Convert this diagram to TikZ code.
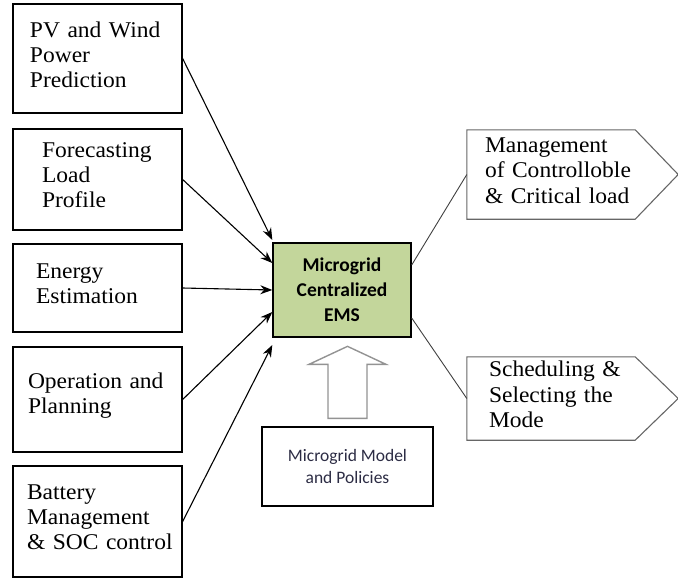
\documentclass[tikz,border=0pt]{standalone}
\usepackage{fontspec}
\setmainfont{Liberation Serif}[FakeStretch=1.045]
\newfontfamily\calibri{Carlito}
\usetikzlibrary{arrows.meta,positioning,calc}
\usepackage{xcolor}
\definecolor{emsgreen}{HTML}{C3D69B}
\definecolor{modelink}{HTML}{2C2C44}

\begin{document}
\begin{tikzpicture}[
    x=1pt, y=-1pt,
    indent/.style={execute at begin node={\leftskip=#1\relax\hyphenpenalty=10000\relax},
      execute at end node={\endgraf\kern8pt}},
    inbox/.style={rectangle, draw, line width=1.3pt, minimum width=169pt, text width=169pt,
      align=left, inner sep=0pt, font=\fontsize{22.5}{25}\selectfont, indent=#1},
    outbox/.style={rectangle, minimum width=168pt, text width=168pt, align=left, inner sep=0pt,
      font=\fontsize{22.5}{25.5}\selectfont, indent=#1},
    emsbox/.style={rectangle, draw, line width=1.4pt, fill=emsgreen, minimum width=138pt,
      minimum height=94pt, align=center, font=\calibri\bfseries\fontsize{19.5}{25}\selectfont},
    modelbox/.style={rectangle, draw, line width=1.3pt, minimum width=171pt, minimum height=79pt,
      align=center, text=modelink, font=\calibri\fontsize{17.5}{22}\selectfont},
    arr/.style={-{Stealth[length=12pt, width=9pt]}, line width=1.1pt},
    lnk/.style={line width=0.9pt, black!75},
    pent/.style={line width=1.1pt, black!60},
    hollow/.style={draw=gray!85, line width=1.4pt, fill=white}
  ]

  \useasboundingbox (0,0) rectangle (678,579);

  %% Column positions (x-coords)
  \def\xL{97.5}
  \def\xE{342}
  \def\xR{551}

  %% Input boxes
  \node[inbox=17pt, minimum height=109pt] (pv)     at (\xL, 58.5)  {PV and Wind\\Power\\Prediction};
  \node[inbox=29pt, minimum height=101pt] (load)   at (\xL, 179.5) {Forecasting\\Load\\Profile};
  \node[inbox=23pt, minimum height=88pt]  (energy) at (\xL, 288)   {Energy\\Estimation};
  \node[inbox=15pt, minimum height=105pt] (oper)   at (\xL, 399.5) {Operation and\\Planning};
  \node[inbox=14pt, minimum height=111pt] (batt)   at (\xL, 521.5) {Battery\\Management\\\& SOC control};

  %% Central EMS
  \node[emsbox] (ems) at (\xE, 290) {Microgrid\\Centralized\\EMS};

  %% Model and policies
  \node[modelbox] (model) at (347.5, 466.5) {Microgrid Model\\and Policies};

  %% Outputs
  \node[outbox=18pt, minimum height=89pt] (loads) at (\xR, 174.5) {Management\\of Controlloble\\\& Critical load};
  \node[outbox=22pt, minimum height=83pt] (mode)  at (\xR, 398.5) {Scheduling \&\\Selecting the\\Mode};

  \foreach \n in {loads, mode}{
    \draw[pent] (\n.north west) -- (\n.north east) -- ([xshift=43pt]\n.east)
      -- (\n.south east) -- (\n.south west) -- cycle;
  }

  %% Inputs -> EMS
  \draw[arr] (pv.east)     -- ([yshift=50pt]ems.west);
  \draw[arr] (load.east)   -- ([yshift=27pt]ems.west);
  \draw[arr] (energy.east) -- (ems.west);
  \draw[arr] (oper.east)   -- ([yshift=-22pt]ems.west);
  \draw[arr] (batt.east)   -- ([yshift=-55pt]ems.west);

  %% EMS -> outputs
  \draw[lnk] ([yshift=25pt]ems.east)  -- (loads.west);
  \draw[lnk] ([yshift=-28pt]ems.east) -- (mode.west);

  %% Hollow arrow from the model up to the EMS
  \coordinate (foot) at ([yshift=8pt]model.north);
  \draw[hollow] (foot) ++(-19.5,0) -- ++(0,-54) -- ++(-19,0) -- ++(38.5,-18)
    -- ++(38.5,18) -- ++(-19,0) -- ++(0,54) -- cycle;

\end{tikzpicture}
\end{document}
